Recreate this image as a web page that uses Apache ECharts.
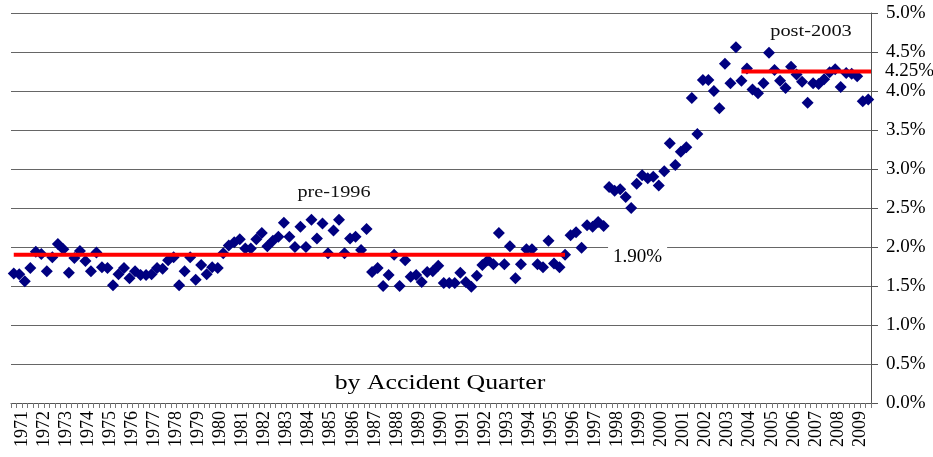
<!DOCTYPE html>
<html>
<head>
<meta charset="utf-8">
<script src="https://cdn.jsdelivr.net/npm/echarts@6/dist/echarts.min.js"></script>
<style>
  html, body { margin: 0; padding: 0; background: #fff; }
  #chart { width: 933px; height: 457px; }
</style>
</head>
<body>
<div id="chart"></div>
<script>
// ---- Data ----
const years = ['1971','1972','1973','1974','1975','1976','1977','1978','1979','1980',
  '1981','1982','1983','1984','1985','1986','1987','1988','1989','1990',
  '1991','1992','1993','1994','1995','1996','1997','1998','1999','2000',
  '2001','2002','2003','2004','2005','2006','2007','2008','2009'];

const quarters = [];
years.forEach(y => { for (let q = 1; q <= 4; q++) quarters.push(y + 'Q' + q); });

// quarterly values (%), 1971Q1 .. 2009Q4
const values = [
  1.66, 1.65, 1.56, 1.73,   // 1971
  1.94, 1.91, 1.69, 1.87,   // 1972
  2.04, 1.97, 1.67, 1.86,   // 1973
  1.95, 1.82, 1.69, 1.93,   // 1974
  1.74, 1.73, 1.51, 1.65,   // 1975
  1.73, 1.60, 1.69, 1.64,   // 1976
  1.64, 1.65, 1.73, 1.72,   // 1977
  1.83, 1.87, 1.51, 1.69,   // 1978
  1.87, 1.58, 1.77, 1.65,   // 1979
  1.74, 1.73, 1.92, 2.02,   // 1980
  2.06, 2.10, 1.98, 1.98,   // 1981
  2.10, 2.18, 2.01, 2.08,   // 1982
  2.13, 2.31, 2.13, 2.00,   // 1983
  2.26, 2.00, 2.35, 2.11,   // 1984
  2.30, 1.92, 2.21, 2.35,   // 1985
  1.92, 2.11, 2.13, 1.96,   // 1986
  2.23, 1.68, 1.73, 1.50,   // 1987
  1.64, 1.90, 1.50, 1.83,   // 1988
  1.62, 1.64, 1.55, 1.68,   // 1989
  1.69, 1.76, 1.54, 1.54,   // 1990
  1.54, 1.67, 1.55, 1.49,   // 1991
  1.63, 1.77, 1.83, 1.78,   // 1992
  2.18, 1.78, 2.01, 1.60,   // 1993
  1.78, 1.97, 1.97, 1.78,   // 1994
  1.74, 2.08, 1.79, 1.74,   // 1995
  1.90, 2.15, 2.19, 1.99,   // 1996
  2.28, 2.26, 2.32, 2.27,   // 1997
  2.77, 2.72, 2.74, 2.64,   // 1998
  2.50, 2.81, 2.92, 2.88,   // 1999
  2.90, 2.79, 2.97, 3.33,   // 2000
  3.05, 3.22, 3.28, 3.91,   // 2001
  3.45, 4.14, 4.14, 4.00,   // 2002
  3.78, 4.35, 4.10, 4.56,   // 2003
  4.13, 4.29, 4.02, 3.97,   // 2004
  4.10, 4.49, 4.27, 4.13,   // 2005
  4.04, 4.31, 4.21, 4.12,   // 2006
  3.85, 4.10, 4.09, 4.15,   // 2007
  4.24, 4.28, 4.05, 4.23,   // 2008
  4.22, 4.19, 3.87, 3.89    // 2009
];

// averages: [startQuarterPos, endQuarterPos] in quarter units from 1971Q1 start
const preAvg = 1.90;
const preRange = [0.5, 100.5];
const postAvg = 4.25;
const postRange = [132.5, 156];

const yTicks = { min: 0, max: 5, interval: 0.5 };

// ---- Chart ----
const serif = '"Liberation Serif", "Times New Roman", serif';
const chart = echarts.init(document.getElementById('chart'), null, { renderer: 'canvas' });

chart.setOption({
  animation: false,
  backgroundColor: '#ffffff',
  grid: { left: 11, right: 62, top: 13, bottom: 54, containLabel: false },
  xAxis: [
    {
      type: 'category',
      data: quarters,
      boundaryGap: true,
      axisLine: { show: true, onZero: false, lineStyle: { color: '#555', width: 1 } },
      axisTick: { show: true, interval: 0, length: 5, lineStyle: { color: '#777' } },
      axisLabel: { show: false },
      splitLine: { show: false }
    },
    {
      type: 'category',
      data: years,
      position: 'bottom',
      boundaryGap: true,
      axisLine: { show: false, onZero: false },
      axisTick: { show: false },
      axisLabel: {
        show: true, interval: 0, rotate: 90, margin: 8,
        fontFamily: serif, fontSize: 18, color: '#000'
      },
      splitLine: { show: false }
    },
    {
      type: 'value',
      min: 0, max: quarters.length,
      show: false,
      axisLine: { show: false, onZero: false },
      splitLine: { show: false }
    }
  ],
  yAxis: {
    type: 'value',
    position: 'right',
    min: yTicks.min, max: yTicks.max, interval: yTicks.interval,
    axisLine: { show: true, onZero: false, lineStyle: { color: '#555', width: 1 } },
    axisTick: { show: true, length: 7, lineStyle: { color: '#555' } },
    axisLabel: {
      margin: 15,
      fontFamily: serif, fontSize: 19, color: '#000',
      formatter: v => v.toFixed(1) + '%'
    },
    splitLine: { show: true, lineStyle: { color: '#666', width: 1 } }
  },
  series: [
    {
      type: 'scatter',
      xAxisIndex: 0,
      data: values,
      symbol: 'diamond',
      symbolSize: 12,
      itemStyle: { color: '#000080', opacity: 1 },
      z: 2
    },
    {
      type: 'line',
      xAxisIndex: 2,
      data: [[preRange[0], preAvg], [preRange[1], preAvg]],
      symbol: 'none',
      lineStyle: { color: '#ff0000', width: 4 },
      z: 3,
      endLabel: {
        show: true,
        formatter: () => preAvg.toFixed(2) + '%',
        fontFamily: serif, fontSize: 19, color: '#000',
        backgroundColor: '#ffffff',
        padding: [4, 5, 3, 5],
        offset: [35, 2]
      }
    },
    {
      type: 'line',
      xAxisIndex: 2,
      data: [[postRange[0], postAvg], [postRange[1], postAvg]],
      symbol: 'none',
      lineStyle: { color: '#ff0000', width: 4 },
      z: 3,
      endLabel: {
        show: true,
        formatter: () => postAvg.toFixed(2) + '%',
        fontFamily: serif, fontSize: 19, color: '#000',
        offset: [6, 0]
      }
    }
  ],
  graphic: [
    {
      type: 'text', x: 334, y: 193, scaleX: 1.19, z: 10,
      style: { text: 'pre-1996', font: '17px ' + serif, fill: '#111',
               align: 'center', verticalAlign: 'middle', textAlign: 'center', textVerticalAlign: 'middle' }
    },
    {
      type: 'text', x: 811, y: 32, scaleX: 1.2, z: 10,
      style: { text: 'post-2003', font: '17px ' + serif, fill: '#111',
               align: 'center', verticalAlign: 'middle', textAlign: 'center', textVerticalAlign: 'middle' }
    },
    {
      type: 'text', x: 440, y: 384, scaleX: 1.29, z: 10,
      style: { text: 'by Accident Quarter', font: '20px ' + serif, fill: '#000',
               align: 'center', verticalAlign: 'middle', textAlign: 'center', textVerticalAlign: 'middle' }
    }
  ]
});
</script>
</body>
</html>
